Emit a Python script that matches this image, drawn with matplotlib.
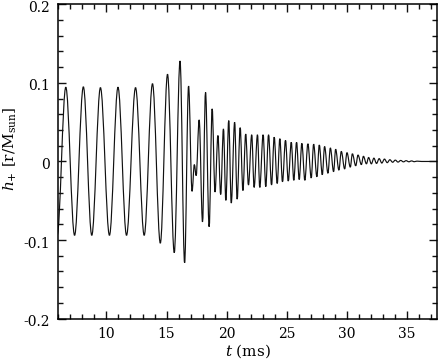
import matplotlib
matplotlib.use('Agg')
import matplotlib.pyplot as plt
from matplotlib.path import Path
from matplotlib.patches import PathPatch
from matplotlib.ticker import MultipleLocator, FixedLocator
from matplotlib.transforms import ScaledTranslation

# turning points of the waveform (time in ms, strain)
t_ext = [5.90, 6.62, 7.35, 8.08, 8.78, 9.50, 10.25, 10.96, 11.67, 12.42,
         13.14, 13.83, 14.48, 15.08, 15.64, 16.12, 16.50, 16.83, 17.12, 17.31,
         17.46, 17.71, 17.99, 18.24, 18.54, 18.79, 19.03, 19.27, 19.50, 19.73,
         19.93, 20.17, 20.38, 20.66, 20.87, 21.12, 21.35, 21.58, 21.81, 22.08,
         22.28, 22.56, 22.75, 23.03, 23.25, 23.48, 23.73, 23.95, 24.20, 24.42,
         24.64, 24.89, 25.12, 25.37, 25.58, 25.81, 26.03, 26.25, 26.50, 26.75,
         27.03, 27.23, 27.50, 27.70, 27.95, 28.14, 28.42, 28.62, 28.89, 29.06,
         29.33, 29.53, 29.81, 30.00, 30.28, 30.45, 30.73, 30.92, 31.20, 31.37,
         31.62, 31.80, 32.03, 32.24, 32.46, 32.68, 32.90, 33.12, 33.35, 33.57,
         33.80, 34.02, 34.25, 34.47, 34.70, 34.92, 35.15, 35.37, 35.60, 35.82,
         36.20, 37.60]
h_ext = [-0.094, 0.0945, -0.094, 0.095, -0.094, 0.094, -0.094, 0.0945, -0.094, 0.094,
         -0.094, 0.099, -0.104, 0.111, -0.116, 0.128, -0.129, 0.096, -0.038, -0.004,
         -0.018, 0.053, -0.077, 0.088, -0.083, 0.067, -0.039, 0.033, -0.042, 0.0415,
         -0.0495, 0.052, -0.053, 0.050, -0.048, 0.043, -0.037, 0.035, -0.030, 0.034,
         -0.033, 0.034, -0.033, 0.034, -0.032, 0.034, -0.030, 0.031, -0.028, 0.029,
         -0.026, 0.027, -0.025, 0.0245, -0.024, 0.0245, -0.023, 0.023, -0.024, 0.0225,
         -0.021, 0.022, -0.0195, 0.021, -0.017, 0.019, -0.015, 0.0172, -0.0130, 0.0155,
         -0.0110, 0.0128, -0.0095, 0.0112, -0.0072, 0.0098, -0.0055, 0.0082, -0.0040, 0.0066,
         -0.0030, 0.0050, -0.0030, 0.0042, -0.0025, 0.0036, -0.0020, 0.0030, -0.0015, 0.0022,
         -0.0010, 0.0017, -0.0008, 0.0013, -0.0005, 0.0010, -0.0004, 0.0007, -0.0003, 0.0004,
         0.0, 0.0]

x_major = [10, 15, 20, 25, 30, 35]
y_major = [-0.2, -0.1, 0.0, 0.1, 0.2]
y_labels = ['-0.2', '-0.1', '0', '0.1', '0.2']


def wave_path(xs, ys, k=0.36):
    # cubic segments with flat tangents at every turning point
    verts = [(xs[0], ys[0])]
    codes = [Path.MOVETO]
    for x0, y0, x1, y1 in zip(xs[:-1], ys[:-1], xs[1:], ys[1:]):
        dx = x1 - x0
        verts += [(x0 + k * dx, y0), (x1 - k * dx, y1), (x1, y1)]
        codes += [Path.CURVE4] * 3
    return Path(verts, codes)


plt.rcParams['font.family'] = ['DejaVu Serif']
plt.rcParams['mathtext.fontset'] = 'dejavuserif'
plt.rcParams['axes.unicode_minus'] = False

fig = plt.figure(figsize=(4.42, 3.6), dpi=100)
ax = fig.add_axes([0.132, 0.115, 0.857, 0.873])

ax.add_patch(PathPatch(wave_path(t_ext, h_ext), fill=False,
                       edgecolor='#111111', linewidth=0.85))

ax.set_xlim(6, 37.5)
ax.set_ylim(-0.2, 0.2)
ax.xaxis.set_major_locator(FixedLocator(x_major))
ax.xaxis.set_minor_locator(MultipleLocator(1))
ax.yaxis.set_major_locator(FixedLocator(y_major))
ax.yaxis.set_minor_locator(MultipleLocator(0.02))
ax.set_yticklabels(y_labels)

ax.tick_params(which='both', direction='in', top=True, right=True,
               width=1.0, labelsize=10, color='#111111')
ax.tick_params(which='major', length=5.5, pad=6)
ax.tick_params(which='minor', length=3.3)
for s in ax.spines.values():
    s.set_linewidth(1.1)

# tick labels on the y axis sit a touch below their ticks
shift = ScaledTranslation(0, -1.5 / 72, fig.dpi_scale_trans)
for lab in ax.get_yticklabels():
    lab.set_transform(lab.get_transform() + shift)

ax.set_xlabel(r'$t$ (ms)', fontsize=11, labelpad=1)
ax.set_ylabel(r'$h_{+}$ [r/M$_{\rm sun}$]', fontsize=11, labelpad=4)
ax.yaxis.set_label_coords(-0.105, 0.54)

fig.savefig('out.png', dpi=100)
